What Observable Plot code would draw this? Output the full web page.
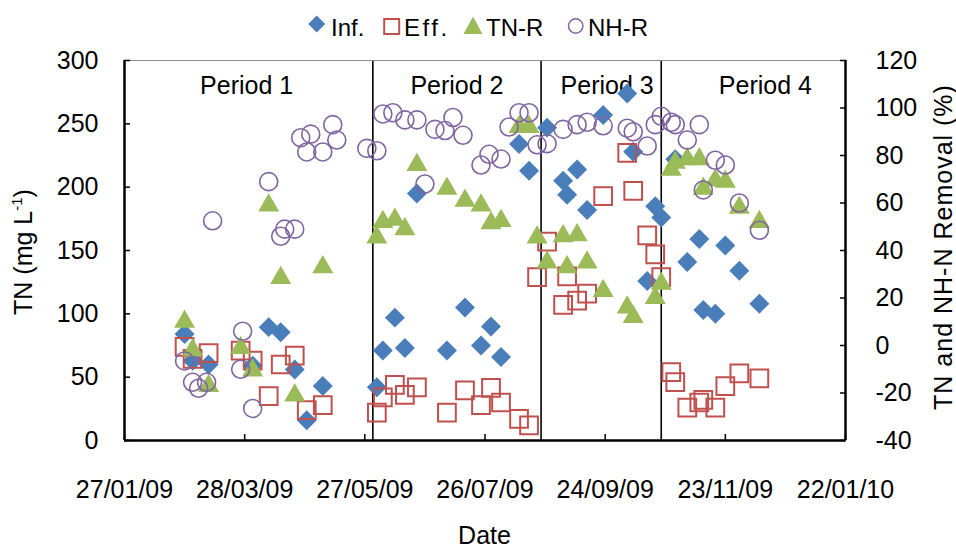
<!DOCTYPE html>
<html><head><meta charset="utf-8">
<script src="https://cdn.jsdelivr.net/npm/d3@7"></script>
<script src="https://cdn.jsdelivr.net/npm/@observablehq/plot@0.6"></script>
<style>
body{margin:0;background:#fff;font-family:"Liberation Sans",Arial,sans-serif;}
#chart{width:956px;}
svg{display:block;}
</style></head><body><div id="chart"></div>
<script>
// ---------- data ----------
const xTickLabels = ["27/01/09","28/03/09","27/05/09","26/07/09","24/09/09","23/11/09","22/01/10"];
const yLeftTicks = [0,50,100,150,200,250,300];
const yRightTicks = [-40,-20,0,20,40,60,80,100,120];
const periodNames = ["Period 1","Period 2","Period 3","Period 4"];
const periodLabelDates = ["2009-03-29","2009-07-12","2009-09-25","2009-12-13"];
const periodBounds = ["2009-05-31","2009-08-23","2009-10-22"];

const inf = [
["2009-02-26",84],["2009-03-02",63],["2009-03-10",60],["2009-04-01",59],["2009-04-09",89.5],
["2009-04-15",85.5],["2009-04-22",56],["2009-04-28",16],["2009-05-06",43],
["2009-06-02",42],["2009-06-05",71],["2009-06-11",97],["2009-06-16",73],["2009-06-22",195],
["2009-07-07",71],["2009-07-16",105],["2009-07-24",75],["2009-07-29",90],["2009-08-03",66],
["2009-08-12",234],["2009-08-17",213],
["2009-08-26",247],["2009-09-03",205],["2009-09-05",194],["2009-09-10",214],["2009-09-15",182],
["2009-09-23",257],["2009-10-05",274],["2009-10-08",228],["2009-10-15",126],["2009-10-19",185],
["2009-10-22",176],
["2009-10-29",222],["2009-11-04",141],["2009-11-10",159],["2009-11-12",103],["2009-11-18",100],
["2009-11-23",154],["2009-11-30",134],["2009-12-10",108]
];
const eff = [
["2009-02-26",74],["2009-03-02",64.5],["2009-03-10",69],["2009-03-26",71],["2009-04-01",63],
["2009-04-09",35],["2009-04-15",60],["2009-04-22",67],["2009-04-28",24],["2009-05-06",28],
["2009-06-02",22],["2009-06-05",34],["2009-06-11",44],["2009-06-16",36],["2009-06-22",42],
["2009-07-07",22],["2009-07-16",39.5],["2009-07-24",28],["2009-07-29",41.5],["2009-08-03",30],
["2009-08-12",17],["2009-08-17",12],
["2009-08-21",129],["2009-08-26",157],["2009-09-03",107],["2009-09-05",129.5],["2009-09-10",110.5],
["2009-09-15",116],["2009-09-23",193],["2009-10-05",227],["2009-10-08",197],["2009-10-15",162],
["2009-10-19",147],["2009-10-22",129],
["2009-10-27",54],["2009-10-29",46],["2009-11-04",26],["2009-11-10",30],["2009-11-12",32],
["2009-11-18",26],["2009-11-23",43],["2009-11-30",53],["2009-12-10",49]
];
const tnR = [
["2009-02-26",10],["2009-03-02",-2],["2009-03-10",-17],["2009-03-26",-1],["2009-04-01",-10.5],
["2009-04-09",59],["2009-04-15",28.5],["2009-04-22",-21],["2009-05-06",33],
["2009-06-02",45.5],["2009-06-05",52],["2009-06-11",53],["2009-06-16",49],["2009-06-22",76],
["2009-07-07",66],["2009-07-16",61],["2009-07-24",59],["2009-07-29",51.5],["2009-08-03",52.5],
["2009-08-12",92],["2009-08-17",92],
["2009-08-21",45.5],["2009-08-26",35],["2009-09-03",46],["2009-09-05",33],["2009-09-10",46.5],
["2009-09-15",35],["2009-09-23",23],["2009-10-05",16],["2009-10-08",12],["2009-10-19",20],
["2009-10-22",26],
["2009-10-27",74],["2009-10-29",77],["2009-11-04",78.5],["2009-11-10",78.5],["2009-11-12",66],
["2009-11-18",69.5],["2009-11-23",69],["2009-11-30",58],["2009-12-10",52]
];
const nhR = [
["2009-02-26",-6.5],["2009-03-02",-15.5],["2009-03-05",-18],["2009-03-09",-15.5],["2009-03-12",52.5],
["2009-03-26",-10],["2009-03-27",6],["2009-04-01",-26.5],["2009-04-09",69],["2009-04-15",46],
["2009-04-17",49],["2009-04-22",49],["2009-04-25",87.5],["2009-04-28",81.5],["2009-04-30",89],
["2009-05-06",81.5],["2009-05-11",93],["2009-05-13",86.5],["2009-05-28",83],["2009-06-02",82],
["2009-06-05",97.5],["2009-06-10",98],["2009-06-16",95],["2009-06-22",95],["2009-06-26",68],
["2009-07-01",91],["2009-07-06",90.5],["2009-07-10",96],["2009-07-15",88.5],["2009-07-24",76],
["2009-07-28",80.5],["2009-08-03",78.5],["2009-08-07",92],["2009-08-12",98],["2009-08-17",98],
["2009-08-21",84.5],["2009-08-26",85],["2009-09-03",91],["2009-09-10",93],["2009-09-15",94],
["2009-09-23",92.5],["2009-10-05",91.5],["2009-10-08",90],["2009-10-15",84],["2009-10-19",93],
["2009-10-22",96.5],
["2009-10-27",94],["2009-10-29",93],["2009-11-04",86.5],["2009-11-10",93],["2009-11-12",65.5],
["2009-11-18",78],["2009-11-23",76],["2009-11-30",60],["2009-12-10",48.5]
];

// ---------- helpers ----------
const parse = d3.utcParse("%Y-%m-%d");
const parseTick = d3.utcParse("%d/%m/%y");
const fmtTick = d3.utcFormat("%d/%m/%y");
const xTicks = xTickLabels.map(parseTick);
const C = {inf:"#4A7EBB", eff:"#C0504D", tn:"#9BBB59", nh:"#8064A2"};
const FONT = '"Liberation Sans", Arial, sans-serif';
// secondary axis (-40..120 %) mapped onto primary (0..300)
const toLeft = r => (r + 40) * 300 / 160;
const fromLeft = v => v * 160 / 300 - 40;

// ---------- legend ----------
const legend = d3.create("svg").attr("width",956).attr("height",44)
  .style("font-family",FONT).style("font-size","24px");
legend.append("path").attr("d","M316.7,15.5L325.2,24L316.7,32.5L308.2,24Z").attr("fill",C.inf);
legend.append("text").attr("x",331).attr("y",36).text("Inf.");
legend.append("rect").attr("x",384.2).attr("y",19).attr("width",15).attr("height",15)
  .attr("fill","none").attr("stroke",C.eff).attr("stroke-width",2);
legend.append("text").attr("x",404).attr("y",36).attr("letter-spacing","2.5px").text("Eff.");
legend.append("path").attr("d","M473,16.5L482.5,34L463.5,34Z").attr("fill",C.tn);
legend.append("text").attr("x",486).attr("y",36).text("TN-R");
legend.append("circle").attr("cx",575.7).attr("cy",26).attr("r",7.2)
  .attr("fill","none").attr("stroke",C.nh).attr("stroke-width",1.5);
legend.append("text").attr("x",588).attr("y",36).text("NH-R");
document.getElementById("chart").append(legend.node());

// ---------- plot ----------
const xDomain = [xTicks[0], xTicks[xTicks.length-1]];
const chart = Plot.plot({
  width: 956, height: 504,
  marginLeft: 124, marginRight: 111, marginTop: 16, marginBottom: 108,
  style: {fontFamily: FONT, fontSize: "25px", color: "#000", background: "#fff", overflow: "visible"},
  x: {type: "utc", domain: xDomain},
  y: {domain: [0, 300]},
  marks: [
    Plot.ruleX(periodBounds, {x: d => parse(d), stroke: "#000", strokeWidth: 1.6}),
    Plot.text(periodNames, {x: (d,i) => parse(periodLabelDates[i]), text: d => d,
      frameAnchor: "top", dy: 16, fontSize: 25, fill: "#000"}),
    Plot.dot(inf, {x: d => parse(d[0]), y: d => d[1], symbol: "diamond2", r: 9, fill: C.inf, stroke: null}),
    Plot.dot(eff, {x: d => parse(d[0]), y: d => d[1], symbol: "square", r: 10, fill: "none", stroke: C.eff, strokeWidth: 2}),
    Plot.dot(tnR, {x: d => parse(d[0]), y: d => toLeft(d[1]), symbol: "triangle", r: 7.8, fill: C.tn, stroke: null}),
    Plot.dot(nhR, {x: d => parse(d[0]), y: d => toLeft(d[1]), symbol: "circle", r: 9, fill: "none", stroke: C.nh, strokeWidth: 1.6}),
    Plot.ruleY([300], {stroke: "#8a8a8a", strokeWidth: 1}),
    Plot.ruleY([0], {stroke: "#000", strokeWidth: 2.5}),
    Plot.ruleX([xDomain[0]], {stroke: "#000", strokeWidth: 2.5}),
    Plot.ruleX([xDomain[1]], {stroke: "#000", strokeWidth: 2.5}),
    Plot.axisX(xTicks, {tickSize: -6, tickPadding: 46, tickFormat: fmtTick, label: null, strokeWidth: 1.5}),
    Plot.axisY(yLeftTicks, {anchor: "left", tickSize: -6, tickPadding: 32, label: null, strokeWidth: 1.5}),
    Plot.axisY(yRightTicks.map(toLeft), {anchor: "right", tickSize: -6, tickPadding: 36,
      tickFormat: v => String(Math.round(fromLeft(v))), label: null, strokeWidth: 1.5})
  ]
});
document.getElementById("chart").append(chart);

// axis titles
const svg = d3.select(chart);
const lt = svg.append("text").attr("transform","translate(32,208) rotate(-90)")
  .attr("text-anchor","middle").attr("font-family",FONT).attr("font-size",25).attr("fill","#000");
lt.append("tspan").text("TN (mg L");
lt.append("tspan").attr("font-size",15).attr("dy",-10).text("-1");
lt.append("tspan").attr("dy",10).text(")");
svg.append("text").attr("transform","translate(952,203) rotate(-90)")
  .attr("text-anchor","middle").attr("font-family",FONT).attr("font-size",25)
  .attr("letter-spacing","1px").attr("fill","#000").text("TN and NH-N Removal (%)");
svg.append("text").attr("x",484.5).attr("y",500).attr("text-anchor","middle")
  .attr("font-family",FONT).attr("font-size",25).attr("fill","#000").text("Date");
</script></body></html>
